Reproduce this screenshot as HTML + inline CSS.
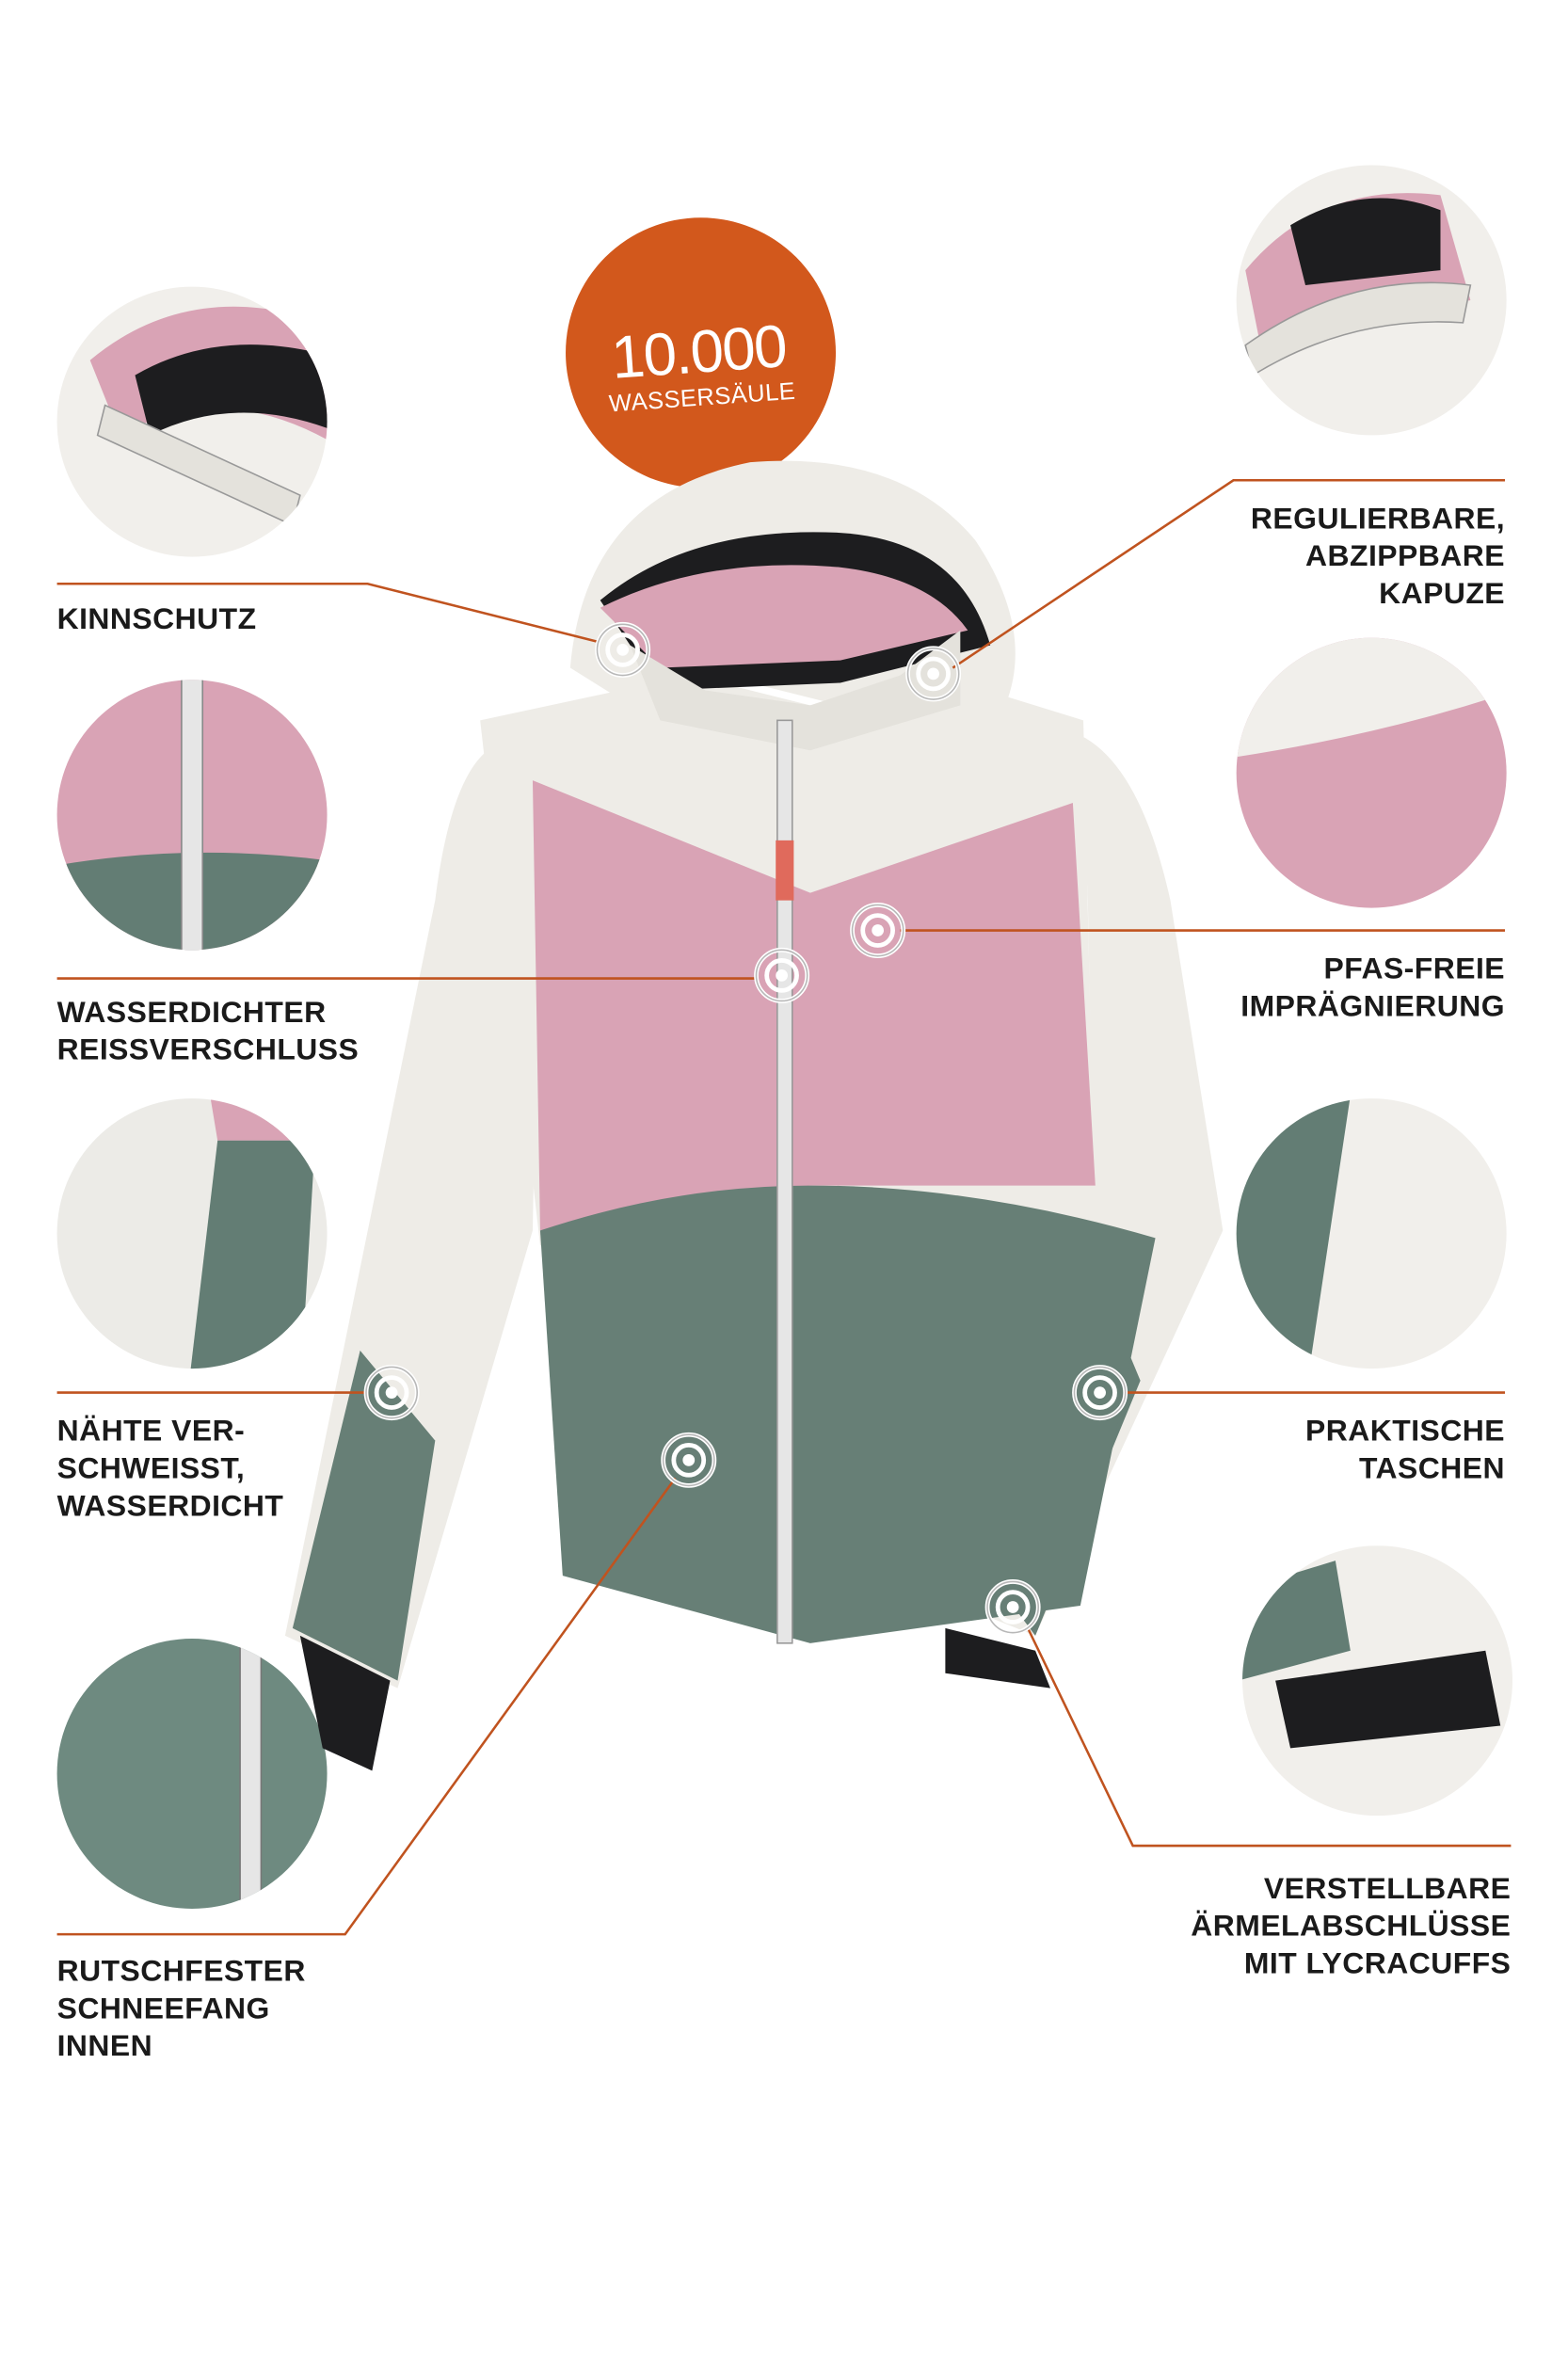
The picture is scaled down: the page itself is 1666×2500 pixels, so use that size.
<!DOCTYPE html>
<html><head><meta charset="utf-8"><style>
html,body{margin:0;padding:0;background:#fff;}
svg{display:block}
text{font-family:"Liberation Sans",sans-serif;font-weight:bold;fill:#1a1a1a;font-size:20px;letter-spacing:0.3px}
</style></head><body>
<svg width="1666" height="2500" viewBox="0 0 1045 1568" xmlns="http://www.w3.org/2000/svg">
<defs>
<clipPath id="c1"><circle cx="128" cy="281" r="90"/></clipPath>
<clipPath id="c2"><circle cx="128" cy="543" r="90"/></clipPath>
<clipPath id="c3"><circle cx="128" cy="822" r="90"/></clipPath>
<clipPath id="c4"><circle cx="128" cy="1182" r="90"/></clipPath>
<clipPath id="c5"><circle cx="914" cy="200" r="90"/></clipPath>
<clipPath id="c6"><circle cx="914" cy="515" r="90"/></clipPath>
<clipPath id="c7"><circle cx="914" cy="822" r="90"/></clipPath>
<clipPath id="c8"><circle cx="918" cy="1120" r="90"/></clipPath>
<g id="mk"><circle r="17" fill="none" stroke="#fff" stroke-width="3"/><circle r="17" fill="none" stroke="#888" stroke-width="1" opacity=".6"/><circle r="10" fill="none" stroke="#fff" stroke-width="3"/><circle r="4" fill="#fff"/></g>
</defs>

<!-- detail circles -->
<g clip-path="url(#c1)"><rect x="30" y="190" width="200" height="200" fill="#f1efeb"/>
<path d="M60 240 Q120 190 200 210 L230 300 Q150 250 80 290Z" fill="#d9a3b5"/>
<path d="M90 250 Q150 215 230 240 L230 290 Q160 260 100 290Z" fill="#1d1d1f"/>
<path d="M70 270 L200 330 L195 350 L65 290Z" fill="#e4e2dc" stroke="#999"/></g>
<g clip-path="url(#c2)"><rect x="30" y="450" width="200" height="200" fill="#d9a3b5"/>
<path d="M30 578 Q128 560 230 575 L230 640 L30 640Z" fill="#637d74"/>
<rect x="121" y="450" width="14" height="190" fill="#e6e6e6" stroke="#888"/></g>
<g clip-path="url(#c3)"><rect x="30" y="730" width="200" height="200" fill="#ecebe7"/>
<path d="M140 730 L230 730 L230 760 L145 760Z" fill="#d9a3b5"/>
<path d="M145 760 L210 760 L200 930 L125 930Z" fill="#637d74"/></g>
<g clip-path="url(#c4)"><rect x="30" y="1090" width="200" height="200" fill="#6e8a80"/>
<rect x="160" y="1090" width="14" height="200" fill="#e6e6e6" stroke="#777"/></g>
<g clip-path="url(#c5)"><rect x="820" y="110" width="200" height="200" fill="#f1efeb"/>
<path d="M830 180 Q880 120 960 130 L980 200 L840 230Z" fill="#d9a3b5"/>
<path d="M860 150 Q910 120 960 140 L960 180 L870 190Z" fill="#1d1d1f"/>
<path d="M830 230 Q900 180 980 190 L975 215 Q900 210 835 250Z" fill="#e4e2dc" stroke="#999"/></g>
<g clip-path="url(#c6)"><rect x="820" y="425" width="200" height="200" fill="#d9a3b5"/>
<path d="M820 425 L1010 425 L1010 460 Q920 490 820 505Z" fill="#f1efeb"/></g>
<g clip-path="url(#c7)"><rect x="820" y="730" width="200" height="200" fill="#f1efeb"/>
<path d="M820 760 L900 730 L870 930 L820 930Z" fill="#637d74"/></g>
<g clip-path="url(#c8)"><rect x="825" y="1030" width="200" height="200" fill="#f1efeb"/>
<path d="M825 1060 L890 1040 L900 1100 L825 1120Z" fill="#637d74"/>
<path d="M850 1120 L990 1100 L1000 1150 L860 1165Z" fill="#1d1d1f"/></g>

<!-- orange badge -->
<circle cx="467" cy="235" r="90" fill="#d2581c"/>
<text x="466" y="248" text-anchor="middle" transform="rotate(-4 466 240)" style="fill:#fff;font-size:40px;font-weight:normal;letter-spacing:-1px">10.000</text>
<text x="468" y="270" text-anchor="middle" transform="rotate(-4 468 265)" style="fill:#fff;font-size:16px;font-weight:normal">WASSERSÄULE</text>

<!-- jacket -->
<path d="M325 500 Q300 520 290 600 L190 1090 L265 1125 L355 820 L360 560Z" fill="#eeece7"/>
<path d="M240 900 L195 1085 L265 1120 L290 960Z" fill="#677f76"/>
<path d="M200 1090 L260 1120 L248 1180 L215 1165Z" fill="#1d1d1f"/>
<path d="M720 490 Q760 510 780 600 L815 820 L690 1090 L640 1070 L730 860 L725 600Z" fill="#eeece7"/>
<path d="M735 860 L660 1050 L690 1090 L760 920Z" fill="#677f76"/>
<path d="M630 1085 L690 1100 L700 1125 L630 1115Z" fill="#1d1d1f"/>
<path d="M320 480 L460 450 L540 470 L625 450 L722 480 L730 820 L360 830Z" fill="#eeece7"/>
<path d="M355 520 L540 595 L715 535 L730 790 L540 790 L360 820Z" fill="#d9a3b5"/>
<path d="M360 820 Q450 790 540 790 Q650 790 770 825 L720 1070 L540 1095 L375 1050Z" fill="#677f76"/>
<path d="M380 445 Q390 330 500 308 Q600 300 650 360 Q690 420 670 470 L560 470 L500 455 L420 470Z" fill="#eeece7"/>
<path d="M400 400 Q460 350 560 355 Q640 360 660 430 L560 455 L440 460Z" fill="#1d1d1f"/>
<path d="M400 405 Q470 370 560 378 Q620 385 645 420 L560 440 L440 445Z" fill="#d9a3b5"/>
<path d="M420 430 L470 460 L540 470 L600 450 L640 420 L640 470 L540 500 L440 480Z" fill="#e4e2dc"/>
<rect x="518" y="480" width="10" height="615" fill="#e6e6e6" stroke="#999" stroke-width="1"/>
<path d="M517 560 L529 560 L529 600 L517 600Z" fill="#e06a5c"/>

<!-- connectors -->
<g stroke="#c0531f" stroke-width="1.6" fill="none">
<polyline points="38,389 245,389 400,428"/>
<polyline points="1003,320 822,320 635,445"/>
<polyline points="600,620 1003,620"/>
<polyline points="38,652 505,652"/>
<polyline points="38,928 245,928"/>
<polyline points="750,928 1003,928"/>
<polyline points="38,1289 230,1289 450,985"/>
<polyline points="685,1085 755,1230 1007,1230"/>
</g>
<use href="#mk" x="415" y="433"/><use href="#mk" x="622" y="449"/><use href="#mk" x="585" y="620"/>
<use href="#mk" x="521" y="650"/><use href="#mk" x="261" y="928"/><use href="#mk" x="733" y="928"/>
<use href="#mk" x="459" y="973"/><use href="#mk" x="675" y="1071"/>

<!-- labels -->
<text x="38" y="419">KINNSCHUTZ</text>
<text x="1003" y="352" text-anchor="end">REGULIERBARE,</text>
<text x="1003" y="377" text-anchor="end">ABZIPPBARE</text>
<text x="1003" y="402" text-anchor="end">KAPUZE</text>
<text x="1003" y="652" text-anchor="end">PFAS-FREIE</text>
<text x="1003" y="677" text-anchor="end">IMPRÄGNIERUNG</text>
<text x="38" y="681">WASSERDICHTER</text>
<text x="38" y="706">REISSVERSCHLUSS</text>
<text x="38" y="960">NÄHTE VER-</text>
<text x="38" y="985">SCHWEISST,</text>
<text x="38" y="1010">WASSERDICHT</text>
<text x="1003" y="960" text-anchor="end">PRAKTISCHE</text>
<text x="1003" y="985" text-anchor="end">TASCHEN</text>
<text x="38" y="1320">RUTSCHFESTER</text>
<text x="38" y="1345">SCHNEEFANG</text>
<text x="38" y="1370">INNEN</text>
<text x="1007" y="1265" text-anchor="end">VERSTELLBARE</text>
<text x="1007" y="1290" text-anchor="end">ÄRMELABSCHLÜSSE</text>
<text x="1007" y="1315" text-anchor="end">MIT LYCRACUFFS</text>
</svg>
</body></html>
